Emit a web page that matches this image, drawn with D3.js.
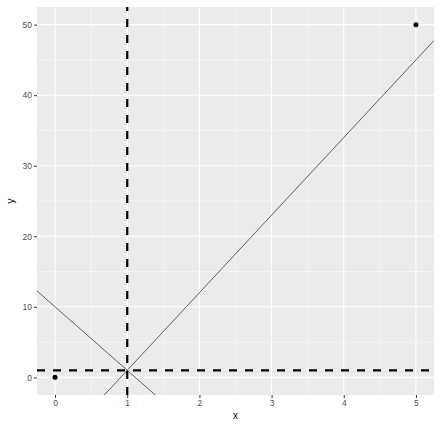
<!doctype HTML>
<meta charset="utf-8">
<title>Lines through (1,1)</title>
<style>
body { margin: 0px; background: white; }
text { font-family: "Liberation Sans", Arial, sans-serif; }
.tick text { fill: #4d4d4d; font-size: 8.5px; }
.tick line { stroke: #333333; }
</style>
<script src="https://d3js.org/d3.v7.min.js"></script>
<body>
<script>
var width = 442, height = 430;
var margin = {top: 7, right: 8, bottom: 35, left: 37};

// data
var pointsX = [0, 5];
var pointsY = [0, 50];
var ablines = [{intercept: -10, slope: 11}, {intercept: 10, slope: -9}];
var vlineX = [1];
var hlineY = [1];
var xTicks = [0, 1, 2, 3, 4, 5];
var yTicks = [0, 10, 20, 30, 40, 50];
var xMinor = [0.5, 1.5, 2.5, 3.5, 4.5];
var yMinor = [5, 15, 25, 35, 45];

var svg = d3.select("body").append("svg")
    .attr("width", width)
    .attr("height", height);

var x = d3.scaleLinear().domain([-0.25, 5.25]).range([margin.left, width - margin.right]);
var y = d3.scaleLinear().domain([-2.5, 52.5]).range([height - margin.bottom, margin.top]);

var panel = svg.append("g");
panel.append("rect")
    .attr("x", x.range()[0]).attr("y", y.range()[1])
    .attr("width", x.range()[1] - x.range()[0])
    .attr("height", y.range()[0] - y.range()[1])
    .attr("fill", "#ebebeb");

svg.append("clipPath").attr("id", "clip")
  .append("rect")
    .attr("x", x.range()[0]).attr("y", y.range()[1])
    .attr("width", x.range()[1] - x.range()[0])
    .attr("height", y.range()[0] - y.range()[1]);

// grid
panel.selectAll("line.xminor").data(xMinor).enter().append("line")
    .attr("x1", d => x(d)).attr("x2", d => x(d))
    .attr("y1", y.range()[0]).attr("y2", y.range()[1])
    .attr("stroke", "white").attr("stroke-width", 0.5);
panel.selectAll("line.yminor").data(yMinor).enter().append("line")
    .attr("y1", d => y(d)).attr("y2", d => y(d))
    .attr("x1", x.range()[0]).attr("x2", x.range()[1])
    .attr("stroke", "white").attr("stroke-width", 0.5);
panel.selectAll("line.xmajor").data(xTicks).enter().append("line")
    .attr("x1", d => x(d)).attr("x2", d => x(d))
    .attr("y1", y.range()[0]).attr("y2", y.range()[1])
    .attr("stroke", "white").attr("stroke-width", 1.1);
panel.selectAll("line.ymajor").data(yTicks).enter().append("line")
    .attr("y1", d => y(d)).attr("y2", d => y(d))
    .attr("x1", x.range()[0]).attr("x2", x.range()[1])
    .attr("stroke", "white").attr("stroke-width", 1.1);

var marks = svg.append("g").attr("clip-path", "url(#clip)");

// points
marks.selectAll("circle").data(pointsX).enter().append("circle")
    .attr("cx", d => x(d))
    .attr("cy", (d, i) => y(pointsY[i]))
    .attr("r", 2.5)
    .attr("fill", "black");

// ablines
var xd = x.domain();
marks.selectAll("line.ab").data(ablines).enter().append("line")
    .attr("x1", x(xd[0])).attr("x2", x(xd[1]))
    .attr("y1", d => y(d.intercept + d.slope * xd[0]))
    .attr("y2", d => y(d.intercept + d.slope * xd[1]))
    .attr("stroke", "black").attr("stroke-width", 0.6);

// reference lines
marks.selectAll("line.v").data(vlineX).enter().append("line")
    .attr("x1", d => x(d)).attr("x2", d => x(d))
    .attr("y1", y.range()[0]).attr("y2", y.range()[1])
    .attr("stroke", "black").attr("stroke-width", 2.2)
    .attr("stroke-dasharray", "8,8");
marks.selectAll("line.h").data(hlineY).enter().append("line")
    .attr("y1", d => y(d)).attr("y2", d => y(d))
    .attr("x1", x.range()[0]).attr("x2", x.range()[1])
    .attr("stroke", "black").attr("stroke-width", 2.2)
    .attr("stroke-dasharray", "8,8");

// axes
var xAxis = svg.append("g")
    .attr("transform", "translate(0," + y.range()[0] + ")")
    .call(d3.axisBottom(x).tickValues(xTicks).tickFormat(d3.format("d")).tickSize(3).tickPadding(2));
var yAxis = svg.append("g")
    .attr("transform", "translate(" + x.range()[0] + ",0)")
    .call(d3.axisLeft(y).tickValues(yTicks).tickFormat(d3.format("d")).tickSize(3).tickPadding(2));
svg.selectAll(".domain").remove();

svg.append("text")
    .attr("x", (x.range()[0] + x.range()[1]) / 2)
    .attr("y", 419)
    .attr("text-anchor", "middle")
    .style("font-size", "10px")
    .text("x");
svg.append("text")
    .attr("transform", "translate(14," + ((y.range()[0] + y.range()[1]) / 2) + ") rotate(-90)")
    .attr("text-anchor", "middle")
    .style("font-size", "10px")
    .text("y");
</script>
